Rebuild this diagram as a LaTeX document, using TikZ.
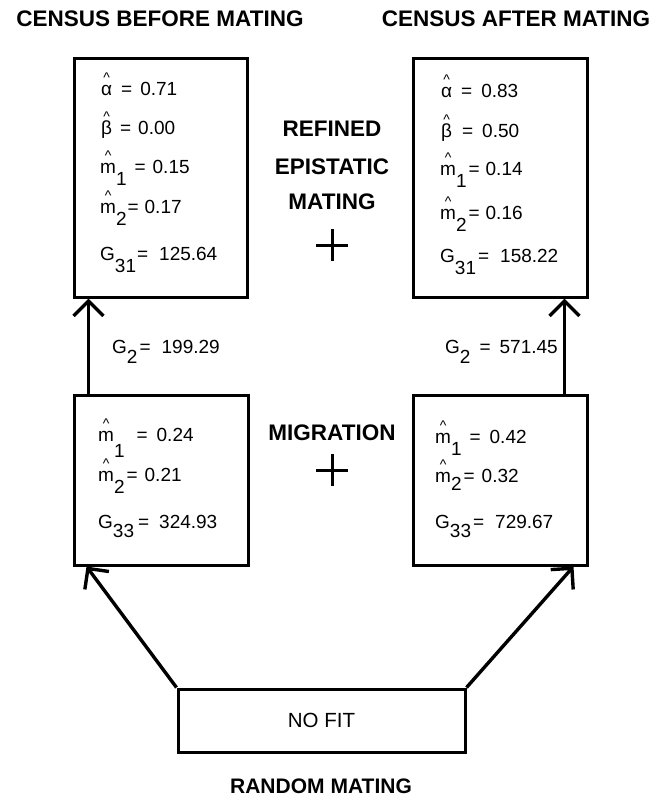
\documentclass[tikz,border=0pt]{standalone}
\usepackage{fontspec}
\setmainfont{Liberation Sans}
\usetikzlibrary{arrows.meta,calc}
\newcommand{\hatit}[1]{\leavevmode\ooalign{#1\cr\hidewidth\raisebox{12.5pt}{\fontsize{14}{14}\selectfont\textasciicircum}\hidewidth\cr}}
\newcommand{\lowsub}[2]{\raisebox{-#1pt}{#2}}
\newcommand{\gap}[1]{\hspace{#1pt}}
\tikzset{
  box/.style={draw, line width=3pt, inner sep=0pt},
  val/.style={anchor=base west, inner sep=0pt, font=\fontsize{19}{19}\selectfont},
  head/.style={anchor=base, inner sep=0pt, font=\fontsize{22.5}{22.5}\selectfont\bfseries},
  arr/.style={line width=3.4pt, -{Straight Barb[length=15pt,width=30pt,line width=3.4pt]}},
  plus/.style={line width=3pt}
}
\begin{document}
\begin{tikzpicture}[x=1pt,y=-1pt]
\path[fill=white,use as bounding box] (0,0) rectangle (667,801);
% titles
\node[head] (t1) at (160,26) {CENSUS BEFORE MATING};
\node[head] (t2) at (516,26) {CENSUS AFTER MATING};
% boxes
\node[box, minimum width=173pt, minimum height=239pt] (tl) at (160.5,177.5) {};
\node[box, minimum width=174pt, minimum height=239pt] (tr) at (500,177.5) {};
\node[box, minimum width=174pt, minimum height=170pt] (bl) at (161,480) {};
\node[box, minimum width=174pt, minimum height=170pt] (br) at (500,480) {};
\node[box, minimum width=287pt, minimum height=63pt, font=\fontsize{20.5}{20.5}\selectfont] (nf) at (321.5,720.5) {NO FIT};
% top-left values
\node[val] (a1) at (101,95) {\hatit{α}\gap{9}=\gap{8}0.71};
\node[val] (b1) at (101,134) {\hatit{β}\gap{8}=\gap{7}0.00};
\node[val] (m11) at (100,173) {\hatit{m}\lowsub{12}{1}\gap{8}=\gap{7}0.15};
\node[val] (m21) at (100,213) {\hatit{m}\lowsub{12}{2}\gap{1}=\gap{6}0.17};
\node[val] (g1) at (100,260) {G\lowsub{12}{31}\gap{1}=\gap{11}125.64};
% top-right values
\node[val] (a2) at (441,97) {\hatit{α}\gap{9}=\gap{9}0.83};
\node[val] (b2) at (441,137) {\hatit{β}\gap{10}=\gap{9}0.50};
\node[val] (m12) at (440,175) {\hatit{m}\lowsub{12}{1}\gap{2}=\gap{6}0.14};
\node[val] (m22) at (440,219) {\hatit{m}\lowsub{12}{2}\gap{2}=\gap{6}0.16};
\node[val] (g2) at (440,262) {G\lowsub{12}{31}\gap{2}=\gap{11}158.22};
% bottom-left values
\node[val] (m13) at (98,441) {\hatit{m}\lowsub{16}{1}\gap{12}=\gap{9}0.24};
\node[val] (m23) at (98,481) {\hatit{m}\lowsub{12}{2}\gap{2}=\gap{7}0.21};
\node[val] (g3) at (98,528) {G\lowsub{9}{33}\gap{4}=\gap{10}324.93};
% bottom-right values
\node[val] (m14) at (435,443) {\hatit{m}\lowsub{12}{1}\gap{8}=\gap{9}0.42};
\node[val] (m24) at (435,482) {\hatit{m}\lowsub{8}{2}\gap{2}=\gap{7}0.32};
\node[val] (g4) at (435,528) {G\lowsub{9}{33}\gap{2}=\gap{11}729.67};
% G2 labels
\node[val] (gl) at (112,353) {G\lowsub{10}{2}\gap{2}=\gap{11}199.29};
\node[val] (gr) at (445,353) {G\lowsub{10}{2}\gap{9}=\gap{9}571.45};
% middle labels
\node[head] (r1) at (332,136) {REFINED};
\node[head] (r2) at (332,174) {EPISTATIC};
\node[head] (r3) at (332,209) {MATING};
\node[head] (mig) at (332,440) {MIGRATION};
\node[head, font=\fontsize{21}{21}\selectfont\bfseries] (rm) at (321,793) {RANDOM\gap{6}MATING};
% plus signs
\draw[plus] (316,245) -- (348,245) (332,229) -- (332,261);
\draw[plus] (316,470) -- (348,470) (332,454) -- (332,486);
% arrows
\draw[arr] ($(bl.north west)+(16,0)$) -- ($(tl.south west)+(16,0)$);
\draw[arr] ($(br.north east)+(-24,0)$) -- ($(tr.south east)+(-24,0)$);
\draw[arr] (nf.north west) -- ($(bl.south west)+(14,0)$);
\draw[arr] (nf.north east) -- ($(br.south east)+(-15,0)$);
\end{tikzpicture}
\end{document}
